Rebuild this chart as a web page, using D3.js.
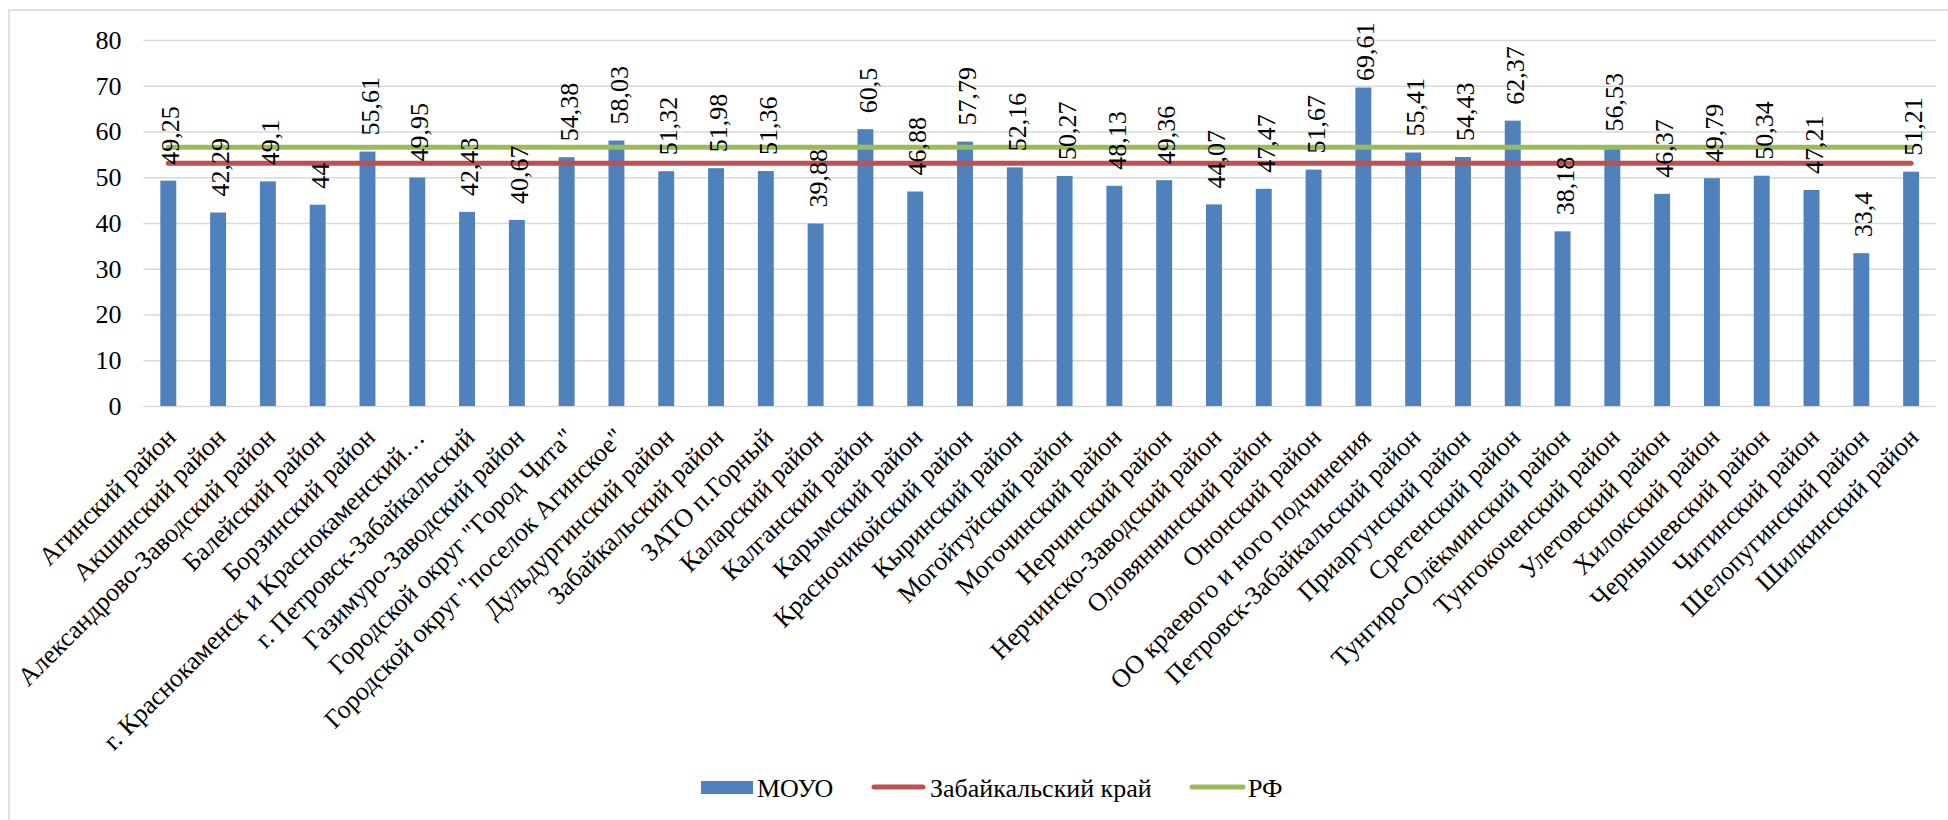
<!DOCTYPE html>
<html>
<head>
<meta charset="utf-8">
<script src="https://cdn.jsdelivr.net/npm/d3@7/dist/d3.min.js"></script>
<style>
  html, body { margin: 0; padding: 0; background: #fff; }
  svg { display: block; }
</style>
</head>
<body>
<svg id="chart" width="1948" height="820"></svg>
<script>
const categories = [
  "Агинский район", "Акшинский район", "Александрово-Заводский район", "Балейский район",
  "Борзинский район", "г. Краснокаменск и Краснокаменский…", "г. Петровск-Забайкальский",
  "Газимуро-Заводский район", "Городской округ \"Город Чита\"", "Городской округ \"поселок Агинское\"",
  "Дульдургинский район", "Забайкальский район", "ЗАТО п.Горный", "Каларский район",
  "Калганский район", "Карымский район", "Красночикойский район", "Кыринский район",
  "Могойтуйский район", "Могочинский район", "Нерчинский район", "Нерчинско-Заводский район",
  "Оловяннинский район", "Ононский район", "ОО краевого и ного подчинения",
  "Петровск-Забайкальский район", "Приаргунский район", "Сретенский район",
  "Тунгиро-Олёкминский район", "Тунгокоченский район", "Улетовский район", "Хилокский район",
  "Чернышевский район", "Читинский район", "Шелопугинский район", "Шилкинский район"
];
const moyoValues = [
  49.25, 42.29, 49.1, 44, 55.61, 49.95, 42.43, 40.67, 54.38, 58.03,
  51.32, 51.98, 51.36, 39.88, 60.5, 46.88, 57.79, 52.16, 50.27, 48.13,
  49.36, 44.07, 47.47, 51.67, 69.61, 55.41, 54.43, 62.37, 38.18, 56.53,
  46.37, 49.79, 50.34, 47.21, 33.4, 51.21
];
const krayValue = 53.05;
const rfValue = 56.55;
const yTicks = [0, 10, 20, 30, 40, 50, 60, 70, 80];
const seriesNames = ["МОУО", "Забайкальский край", "РФ"];
const colors = { bar: "#4f81bd", kray: "#c0504d", rf: "#9bbb59", grid: "#d9d9d9" };

const FONT = "Liberation Serif";
const svg = d3.select("#chart");
const W = 1948, H = 820;
const plot = { left: 143.4, right: 1936, top: 40, bottom: 406 };
const FS = 26;
const serifText = (sel) => sel.attr("font-family", FONT).style("font-family", FONT)
  .attr("font-size", FS).style("font-size", FS + "px").attr("fill", "#000");

// chart border
svg.append("rect")
  .attr("x", 9).attr("y", 10).attr("width", W).attr("height", H)
  .attr("fill", "none").attr("stroke", colors.grid).attr("stroke-width", 1.5);

const x = d3.scaleBand().domain(categories)
  .range([plot.left, plot.right]).paddingInner(0.68).paddingOuter(0.34);
const y = d3.scaleLinear().domain([0, 80]).range([plot.bottom, plot.top]);

// grid + y axis
const yAxis = d3.axisLeft(y).tickValues(yTicks).tickSize(-(plot.right - plot.left)).tickPadding(22)
  .tickFormat(d3.format("d"));
const gy = svg.append("g").attr("transform", `translate(${plot.left},0)`).call(yAxis);
gy.attr("font-family", FONT).attr("font-size", FS);
gy.select(".domain").remove();
gy.selectAll(".tick line").attr("stroke", colors.grid).attr("stroke-width", 1.5);
gy.selectAll(".tick text").call(serifText);

// bars
svg.append("g").selectAll("rect").data(categories).join("rect")
  .attr("x", (d) => x(d))
  .attr("width", x.bandwidth())
  .attr("y", (d, i) => y(moyoValues[i]))
  .attr("height", (d, i) => y(0) - y(moyoValues[i]))
  .attr("fill", colors.bar);

// lines
const line = d3.line().x((d) => x(d) + x.bandwidth() / 2);
svg.append("path")
  .attr("d", line.y(() => y(krayValue))(categories))
  .attr("fill", "none").attr("stroke", colors.kray).attr("stroke-width", 5).attr("stroke-linecap", "round");
svg.append("path")
  .attr("d", line.y(() => y(rfValue))(categories))
  .attr("fill", "none").attr("stroke", colors.rf).attr("stroke-width", 5).attr("stroke-linecap", "round");

// value labels (rotated, reading upward)
const fmt = (v) => String(v).replace(".", ",");
svg.append("g")
  .selectAll("text").data(categories).join("text")
  .call(serifText)
  .attr("text-anchor", "start")
  .attr("dy", "0.35em")
  .attr("transform", function (d, i) {
    const cx = x(d) + x.bandwidth() / 2 + 2;
    const len = fmt(moyoValues[i]).length * 12.2;
    let sy = y(moyoValues[i]) - 16;
    sy = Math.max(sy, 20 + len);
    return `translate(${cx},${sy}) rotate(-90)`;
  })
  .text((d, i) => fmt(moyoValues[i]));

// x axis labels
const xAxis = d3.axisBottom(x).tickSize(0).tickPadding(0);
const gx = svg.append("g").attr("transform", `translate(0,${plot.bottom})`).call(xAxis);
gx.attr("font-family", FONT).attr("font-size", FS);
gx.select(".domain").remove();
gx.selectAll(".tick text")
  .call(serifText)
  .attr("text-anchor", "end")
  .attr("x", 0).attr("y", 0).attr("dy", 0)
  .attr("transform", "translate(9,33) rotate(-45)");

// legend
const lg = svg.append("g");
lg.append("rect").attr("x", 701).attr("y", 781).attr("width", 52).attr("height", 13).attr("fill", colors.bar);
lg.append("text").attr("x", 757).attr("y", 797).text(seriesNames[0]);
lg.append("line").attr("x1", 874).attr("x2", 923).attr("y1", 787).attr("y2", 787)
  .attr("stroke", colors.kray).attr("stroke-width", 5).attr("stroke-linecap", "round");
lg.append("text").attr("x", 930).attr("y", 797).text(seriesNames[1]);
lg.append("line").attr("x1", 1192).attr("x2", 1243).attr("y1", 787).attr("y2", 787)
  .attr("stroke", colors.rf).attr("stroke-width", 5).attr("stroke-linecap", "round");
lg.append("text").attr("x", 1248).attr("y", 797).text(seriesNames[2]);
lg.selectAll("text").call(serifText);
</script>
</body>
</html>
